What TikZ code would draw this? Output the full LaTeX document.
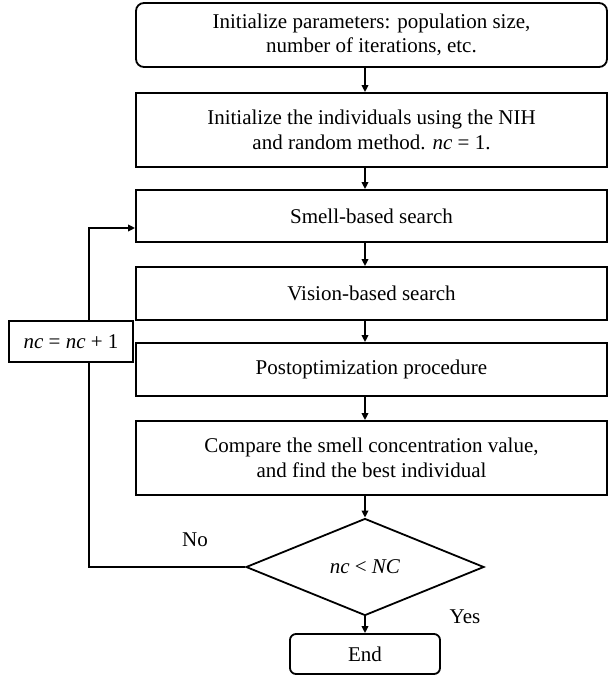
\documentclass[tikz,border=0pt]{standalone}
\usepackage{fontspec}
\setmainfont{Liberation Serif}
\usetikzlibrary{shapes.geometric,arrows.meta}
\begin{document}
\begin{tikzpicture}[x=1pt,y=-1pt,
  box/.style={draw,line width=1.8pt,minimum width=471pt,inner sep=0pt,align=center,font=\fontsize{21}{24.5}\selectfont},
  rbox/.style={box,rounded corners=8pt},
  arr/.style={line width=1.8pt,-{Triangle[length=7pt,width=6.5pt]}},
  ln/.style={line width=1.8pt},
  lbl/.style={font=\fontsize{21}{24.5}\selectfont}]
\useasboundingbox (0,0) rectangle (608,676);
\node[rbox,minimum height=64pt] (b1) at (371.5,35) {Initialize parameters: population size,\\number of iterations, etc.};
\node[box,minimum height=74pt] (b2) at (371.5,130) {Initialize the individuals using the NIH\\and random method. \textit{nc} = 1.};
\node[box,minimum height=52pt] (b3) at (371.5,216) {Smell-based search};
\node[box,minimum height=53pt] (b4) at (371.5,293.5) {Vision-based search};
\node[box,minimum height=53pt] (b5) at (371.5,369.5) {Postoptimization procedure};
\node[box,minimum height=74pt] (b6) at (371.5,458) {Compare the smell concentration value,\\and find the best individual};
\node[draw,line width=1.8pt,diamond,minimum width=238pt,minimum height=97pt,inner sep=0pt,lbl] (d) at (365,567) {\textit{nc} < \textit{NC}};
\node[draw,line width=1.8pt,rounded corners=6pt,minimum width=150pt,minimum height=40pt,inner sep=0pt,lbl] (e) at (365,654) {End};
\node[draw,line width=1.8pt,minimum width=124pt,minimum height=41pt,inner sep=0pt,lbl] (nc) at (71,341.5) {\textit{nc} = \textit{nc} + 1};
\node[lbl] (no) at (195,540) {No};
\node[lbl] (yes) at (465,617) {Yes};
\coordinate (lx) at (89,0);
\draw[arr] (b1.south -| d.north) -- (b2.north -| d.north);
\draw[arr] (b2.south -| d.north) -- (b3.north -| d.north);
\draw[arr] (b3.south -| d.north) -- (b4.north -| d.north);
\draw[arr] (b4.south -| d.north) -- (b5.north -| d.north);
\draw[arr] (b5.south -| d.north) -- (b6.north -| d.north);
\draw[arr] (b6.south -| d.north) -- (d.north);
\draw[arr] (d.south) -- (e.north);
\draw[ln] (d.west) -- (d.west -| lx) -- (nc.south -| lx);
\draw[arr] (nc.north -| lx) |- ([yshift=-12pt]b3.west);
\end{tikzpicture}
\end{document}
